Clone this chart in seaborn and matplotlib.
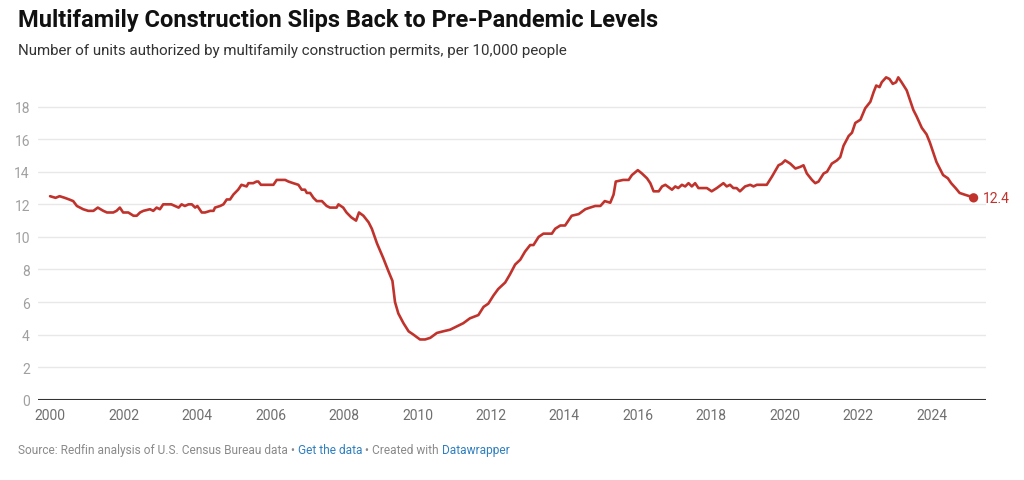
import matplotlib
matplotlib.use("Agg")
import matplotlib.pyplot as plt
import seaborn as sns
import pandas as pd

# ---- data ----
years = [
    2000.00, 2000.15, 2000.26, 2000.40, 2000.52, 2000.63, 2000.73, 2000.90, 2001.04, 2001.18,
    2001.30, 2001.45, 2001.55, 2001.72, 2001.81, 2001.90, 2001.99, 2002.13, 2002.27, 2002.36,
    2002.45, 2002.54, 2002.72, 2002.81, 2002.90, 2002.99, 2003.08, 2003.30, 2003.50, 2003.58,
    2003.67, 2003.77, 2003.86, 2003.95, 2004.01, 2004.13, 2004.22, 2004.36, 2004.45, 2004.49,
    2004.63, 2004.72, 2004.81, 2004.90, 2004.99, 2005.12, 2005.21, 2005.35, 2005.40, 2005.53,
    2005.62, 2005.67, 2005.74, 2005.90, 2006.08, 2006.17, 2006.40, 2006.49, 2006.62, 2006.76,
    2006.85, 2006.94, 2006.99, 2007.08, 2007.17, 2007.26, 2007.40, 2007.53, 2007.62, 2007.71,
    2007.80, 2007.85, 2007.98, 2008.07, 2008.20, 2008.33, 2008.41, 2008.53, 2008.67, 2008.76,
    2008.90, 2009.07, 2009.21, 2009.32, 2009.39, 2009.48, 2009.62, 2009.76, 2009.89, 2010.07,
    2010.21, 2010.35, 2010.53, 2010.70, 2010.89, 2011.07, 2011.25, 2011.43, 2011.66, 2011.80,
    2011.93, 2012.07, 2012.20, 2012.39, 2012.52, 2012.66, 2012.80, 2012.93, 2013.07, 2013.16,
    2013.30, 2013.43, 2013.66, 2013.75, 2013.89, 2014.02, 2014.20, 2014.39, 2014.57, 2014.70,
    2014.84, 2014.98, 2015.10, 2015.25, 2015.34, 2015.40, 2015.60, 2015.75, 2015.84, 2016.00,
    2016.11, 2016.25, 2016.34, 2016.43, 2016.57, 2016.66, 2016.75, 2016.93, 2017.02, 2017.10,
    2017.20, 2017.29, 2017.38, 2017.47, 2017.56, 2017.65, 2017.88, 2018.01, 2018.15, 2018.33,
    2018.42, 2018.51, 2018.60, 2018.69, 2018.78, 2018.92, 2019.06, 2019.15, 2019.24, 2019.51,
    2019.65, 2019.83, 2019.92, 2020.01, 2020.15, 2020.29, 2020.42, 2020.51, 2020.60, 2020.74,
    2020.83, 2020.92, 2021.06, 2021.15, 2021.28, 2021.42, 2021.51, 2021.60, 2021.74, 2021.83,
    2021.92, 2022.06, 2022.19, 2022.33, 2022.42, 2022.49, 2022.58, 2022.64, 2022.76, 2022.85,
    2022.94, 2023.03, 2023.09, 2023.18, 2023.32, 2023.41, 2023.50, 2023.59, 2023.73, 2023.86,
    2023.95, 2024.04, 2024.13, 2024.22, 2024.31, 2024.44, 2024.53, 2024.65, 2024.76, 2024.89,
    2025.03, 2025.14,
]
units_per_10k = [
    12.5, 12.4, 12.5, 12.4, 12.3, 12.2, 11.9, 11.7, 11.6, 11.6,
    11.8, 11.6, 11.5, 11.5, 11.6, 11.8, 11.5, 11.5, 11.3, 11.3,
    11.5, 11.6, 11.7, 11.6, 11.8, 11.7, 12.0, 12.0, 11.8, 12.0,
    11.9, 12.0, 12.0, 11.8, 11.9, 11.5, 11.5, 11.6, 11.6, 11.8,
    11.9, 12.0, 12.3, 12.3, 12.6, 12.9, 13.2, 13.1, 13.3, 13.3,
    13.4, 13.4, 13.2, 13.2, 13.2, 13.5, 13.5, 13.4, 13.3, 13.2,
    12.9, 12.9, 12.7, 12.7, 12.4, 12.2, 12.2, 11.9, 11.8, 11.8,
    11.8, 12.0, 11.8, 11.5, 11.2, 11.0, 11.5, 11.3, 10.9, 10.5,
    9.6, 8.7, 7.9, 7.3, 6.0, 5.3, 4.7, 4.2, 4.0, 3.7,
    3.7, 3.8, 4.1, 4.2, 4.3, 4.5, 4.7, 5.0, 5.2, 5.7,
    5.9, 6.4, 6.8, 7.2, 7.7, 8.3, 8.6, 9.1, 9.5, 9.5,
    10.0, 10.2, 10.2, 10.5, 10.7, 10.7, 11.3, 11.4, 11.7, 11.8,
    11.9, 11.9, 12.2, 12.1, 12.6, 13.4, 13.5, 13.5, 13.8, 14.1,
    13.9, 13.6, 13.3, 12.8, 12.8, 13.1, 13.2, 12.9, 13.1, 13.0,
    13.2, 13.1, 13.3, 13.1, 13.3, 13.0, 13.0, 12.8, 13.0, 13.3,
    13.1, 13.2, 13.0, 13.0, 12.8, 13.1, 13.2, 13.1, 13.2, 13.2,
    13.7, 14.4, 14.5, 14.7, 14.5, 14.2, 14.3, 14.4, 13.9, 13.5,
    13.3, 13.4, 13.9, 14.0, 14.5, 14.7, 14.9, 15.6, 16.2, 16.4,
    17.0, 17.2, 17.9, 18.3, 18.9, 19.3, 19.2, 19.5, 19.8, 19.7,
    19.4, 19.5, 19.8, 19.5, 19.0, 18.4, 17.8, 17.4, 16.7, 16.3,
    15.8, 15.2, 14.6, 14.2, 13.8, 13.6, 13.3, 13.0, 12.7, 12.6,
    12.5, 12.4,
]
x_ticks = [2000, 2002, 2004, 2006, 2008, 2010, 2012, 2014, 2016, 2018, 2020, 2022, 2024]
y_ticks = [0, 2, 4, 6, 8, 10, 12, 14, 16, 18]
end_label = "12.4"

title = "Multifamily Construction Slips Back to Pre-Pandemic Levels"
subtitle = "Number of units authorized by multifamily construction permits, per 10,000 people"

df = pd.DataFrame({"year": years, "value": units_per_10k})

# ---- style ----
sns.set_theme(style="white")
plt.rcParams["font.family"] = ["Roboto", "DejaVu Sans"]

RED = "#c0332d"
fig = plt.figure(figsize=(10.24, 4.81), dpi=100)
ax = fig.add_axes([38.3 / 1024, (481 - 400.7) / 481, (985.7 - 38.3) / 1024, (400.7 - 75.1) / 481])

for yt in y_ticks[1:]:
    ax.axhline(yt, color="#e8e8e8", lw=1.0, zorder=0)
ax.axhline(0, color="#333333", lw=1.5, zorder=3)

sns.lineplot(data=df, x="year", y="value", ax=ax, color=RED, lw=1.9, zorder=4)
last = df.iloc[[-1]]
sns.scatterplot(data=last, x="year", y="value", ax=ax, color=RED, s=45, edgecolor="none", zorder=5)
ax.annotate(end_label, (last["year"].iloc[0], last["value"].iloc[0]), xytext=(7, 0),
            textcoords="offset points", va="center", ha="left", color=RED, fontsize=10,
            annotation_clip=False)

ax.set_xlim(1999.68, 2025.47)
ax.set_ylim(0, 20)
ax.set_xticks(x_ticks)
ax.set_xticklabels([str(t) for t in x_ticks])
ax.set_yticks(y_ticks)
ax.set_yticklabels([str(t) for t in y_ticks])
ax.tick_params(axis="x", length=0, pad=6, labelsize=10, labelcolor="#6f6f6f")
ax.tick_params(axis="y", length=0, pad=6, labelsize=10, labelcolor="#a0a0a0")
for lab in ax.get_yticklabels():
    lab.set_horizontalalignment("right")
ax.set_xlabel("")
ax.set_ylabel("")
for s in ax.spines.values():
    s.set_visible(False)
ax.grid(False)

# ---- titles ----
fig.text(18 / 1024, 1 - 20 / 481, title, fontsize=17, fontweight="bold", color="#111111",
         va="center", ha="left")
fig.text(18 / 1024, 1 - 51 / 481, subtitle, fontsize=10.9, color="#333333", va="center", ha="left")

# ---- footer with coloured pieces ----
pieces = [
    ("Source: Redfin analysis of U.S. Census Bureau data", "#8a8a8a"),
    (" \u2022 ", "#8a8a8a"),
    ("Get the data", "#2f7fbf"),
    (" \u2022 ", "#8a8a8a"),
    ("Created with ", "#8a8a8a"),
    ("Datawrapper", "#2f7fbf"),
]
fig.canvas.draw()
renderer = fig.canvas.get_renderer()
xpos = 18
for txt, col in pieces:
    t = fig.text(xpos / 1024, 1 - 451 / 481, txt, fontsize=8.55, color=col, va="center", ha="left")
    bb = t.get_window_extent(renderer=renderer)
    xpos += bb.width

fig.savefig("out.png", dpi=100)
